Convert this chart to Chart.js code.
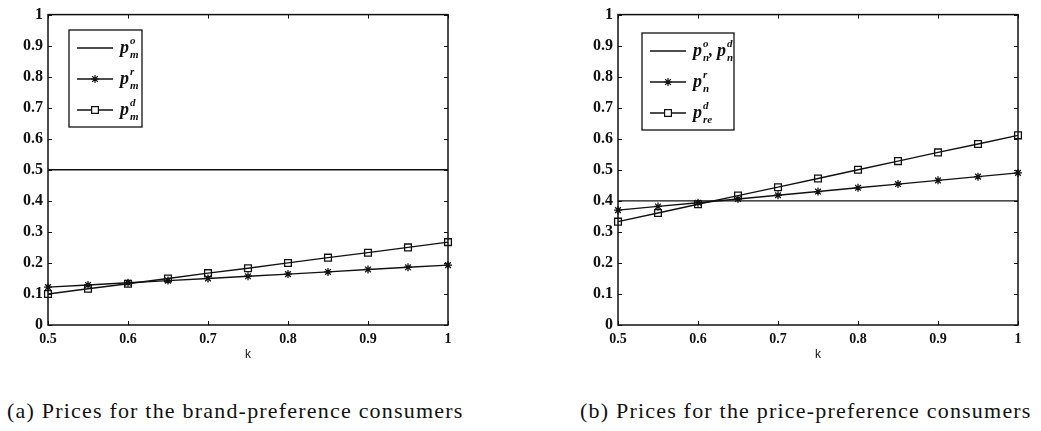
<!DOCTYPE html>
<html>
<head>
<meta charset="utf-8">
<script src="https://cdn.jsdelivr.net/npm/chart.js@4"></script>
<style>
  body { margin: 0; background: #fff; width: 1041px; height: 431px; position: relative; overflow: hidden; }
  .box { position: absolute; top: 0; width: 470px; height: 370px; }
  .cap { position: absolute; top: 398px; font-family: "Liberation Serif", serif; font-size: 22px; letter-spacing: 1.2px; white-space: nowrap; color: #111; }
</style>
</head>
<body>
<div class="box" style="left:0"><canvas id="chartA"></canvas></div>
<div class="box" style="left:570px"><canvas id="chartB"></canvas></div>
<div class="cap" style="left:7px">(a) Prices for the brand-preference consumers</div>
<div class="cap" style="left:580px">(b) Prices for the price-preference consumers</div>
<script>
// k values on the x axis
const kValues = [0.5, 0.55, 0.6, 0.65, 0.7, 0.75, 0.8, 0.85, 0.9, 0.95, 1];

// (a) brand-preference consumers
const pmO = [0.5, 0.5, 0.5, 0.5, 0.5, 0.5, 0.5, 0.5, 0.5, 0.5, 0.5];
const pmR = [0.122, 0.129, 0.136, 0.143, 0.150, 0.157, 0.164, 0.171, 0.179, 0.186, 0.193];
const pmD = [0.100, 0.117, 0.133, 0.150, 0.167, 0.183, 0.200, 0.217, 0.233, 0.250, 0.267];

// (b) price-preference consumers
const pnO = [0.4, 0.4, 0.4, 0.4, 0.4, 0.4, 0.4, 0.4, 0.4, 0.4, 0.4];
const pnR = [0.370, 0.382, 0.394, 0.406, 0.418, 0.430, 0.442, 0.454, 0.466, 0.478, 0.490];
const preD = [0.333, 0.361, 0.389, 0.417, 0.444, 0.472, 0.500, 0.528, 0.556, 0.583, 0.611];

function pts(ys) {
  return kValues.map((k, i) => ({ x: k, y: ys[i] }));
}

function fmt(v) {
  return String(Number(v.toFixed(2)));
}

// frame + inward ticks on all four sides, like matlab
const boxTicks = {
  id: "boxTicks",
  afterDraw(chart) {
    const ctx = chart.ctx;
    const a = chart.chartArea;
    const xs = chart.scales.x, ys = chart.scales.y;
    ctx.save();
    ctx.strokeStyle = "#111";
    ctx.lineWidth = 1;
    ctx.beginPath();
    xs.ticks.forEach(t => {
      const px = Math.round(xs.getPixelForValue(t.value)) + 0.5;
      ctx.moveTo(px, a.bottom); ctx.lineTo(px, a.bottom - 4);
      ctx.moveTo(px, a.top); ctx.lineTo(px, a.top + 4);
    });
    ys.ticks.forEach(t => {
      const py = Math.round(ys.getPixelForValue(t.value)) + 0.5;
      ctx.moveTo(a.left, py); ctx.lineTo(a.left + 4, py);
      ctx.moveTo(a.right, py); ctx.lineTo(a.right - 4, py);
    });
    ctx.stroke();
    ctx.lineWidth = 1.5;
    ctx.strokeRect(a.left, a.top, a.right - a.left, a.bottom - a.top);
    ctx.restore();
  }
};

// legend with sub/superscripts, drawn inside the axes
const texLegend = {
  id: "texLegend",
  afterDraw(chart, args, opts) {
    const ctx = chart.ctx;
    ctx.save();
    ctx.fillStyle = "#fff";
    ctx.fillRect(opts.x, opts.y, opts.w, opts.h);
    ctx.strokeStyle = "#111";
    ctx.lineWidth = 1.3;
    ctx.strokeRect(opts.x, opts.y, opts.w, opts.h);
    opts.rows.forEach((row, i) => {
      const ds = chart.data.datasets[i];
      const cy = opts.y + opts.first + i * opts.gap;
      const x0 = opts.x + 8;
      ctx.strokeStyle = ds.borderColor;
      ctx.lineWidth = ds.borderWidth;
      ctx.beginPath();
      ctx.moveTo(x0, cy); ctx.lineTo(x0 + 36, cy);
      ctx.stroke();
      if (ds.pointRadius > 0) {
        ctx.fillStyle = "#fff";
        ctx.lineWidth = 1.2;
        Chart.helpers.drawPoint(ctx, {
          pointStyle: ds.pointStyle, radius: ds.pointRadius, borderWidth: 1.2, rotation: 0
        }, x0 + 18, cy);
      }
      // label text
      let tx = x0 + 43;
      ctx.fillStyle = "#111";
      ctx.textBaseline = "alphabetic";
      row.forEach(part => {
        if (part.sep) {
          ctx.font = "bold italic 16px 'Liberation Serif'";
          ctx.fillText(part.sep, tx, cy + 5);
          tx += ctx.measureText(part.sep).width;
          return;
        }
        ctx.font = "bold italic 18px 'Liberation Serif'";
        ctx.fillText(part.b, tx, cy + 5);
        tx += ctx.measureText(part.b).width + 1;
        ctx.font = "bold italic 11px 'Liberation Serif'";
        ctx.fillText(part.sup, tx, cy - 4);
        ctx.fillText(part.sub, tx, cy + 10);
        tx += Math.max(ctx.measureText(part.sup).width, ctx.measureText(part.sub).width);
      });
    });
    ctx.restore();
  }
};

function makeChart(id, series, legend) {
  const styles = [
    { pointRadius: 0, pointStyle: false },
    { pointRadius: 4, pointStyle: "star" },
    { pointRadius: 4.8, pointStyle: "rect" }
  ];
  return new Chart(document.getElementById(id), {
    type: "line",
    data: {
      datasets: series.map((s, i) => ({
        data: pts(s),
        borderColor: "#111",
        borderWidth: 1.4,
        pointBorderColor: "#111",
        pointBackgroundColor: "rgba(0,0,0,0)",
        pointBorderWidth: 1.3,
        pointRadius: styles[i].pointRadius,
        pointStyle: styles[i].pointStyle,
        tension: 0,
        clip: false
      }))
    },
    options: {
      responsive: true,
      maintainAspectRatio: false,
      animation: false,
      events: [],
      layout: { padding: { top: 11, right: 22, left: 0, bottom: 0 } },
      plugins: {
        legend: { display: false },
        tooltip: { enabled: false },
        texLegend: legend
      },
      scales: {
        x: {
          type: "linear",
          min: 0.5,
          max: 1,
          grid: { display: false, drawTicks: false },
          border: { display: false },
          ticks: { stepSize: 0.1, font: { family: "Liberation Serif", size: 14, weight: "bold" }, color: "#111", padding: 6, maxRotation: 0, callback: v => fmt(v) },
          title: { display: true, text: "k", font: { family: "Liberation Sans", size: 12 }, color: "#111", padding: { top: 0, bottom: 8 } },
          afterFit: s => { s.height = 45; }
        },
        y: {
          min: 0,
          max: 1,
          grid: { display: false, drawTicks: false },
          border: { display: false },
          ticks: { stepSize: 0.1, font: { family: "Liberation Serif", size: 16, weight: "bold" }, color: "#111", padding: 5, callback: v => fmt(v) },
          afterFit: s => { s.width = 48; }
        }
      }
    },
    plugins: [boxTicks, texLegend]
  });
}

makeChart("chartA", [pmO, pmR, pmD], {
  x: 69, y: 30, w: 73, h: 97, first: 18, gap: 31,
  rows: [
    [{ b: "p", sup: "o", sub: "m" }],
    [{ b: "p", sup: "r", sub: "m" }],
    [{ b: "p", sup: "d", sub: "m" }]
  ]
});

makeChart("chartB", [pnO, pnR, preD], {
  x: 72, y: 33, w: 92, h: 97, first: 18, gap: 31,
  rows: [
    [{ b: "p", sup: "o", sub: "n" }, { sep: ", " }, { b: "p", sup: "d", sub: "n" }],
    [{ b: "p", sup: "r", sub: "n" }],
    [{ b: "p", sup: "d", sub: "re" }]
  ]
});
</script>
</body>
</html>
